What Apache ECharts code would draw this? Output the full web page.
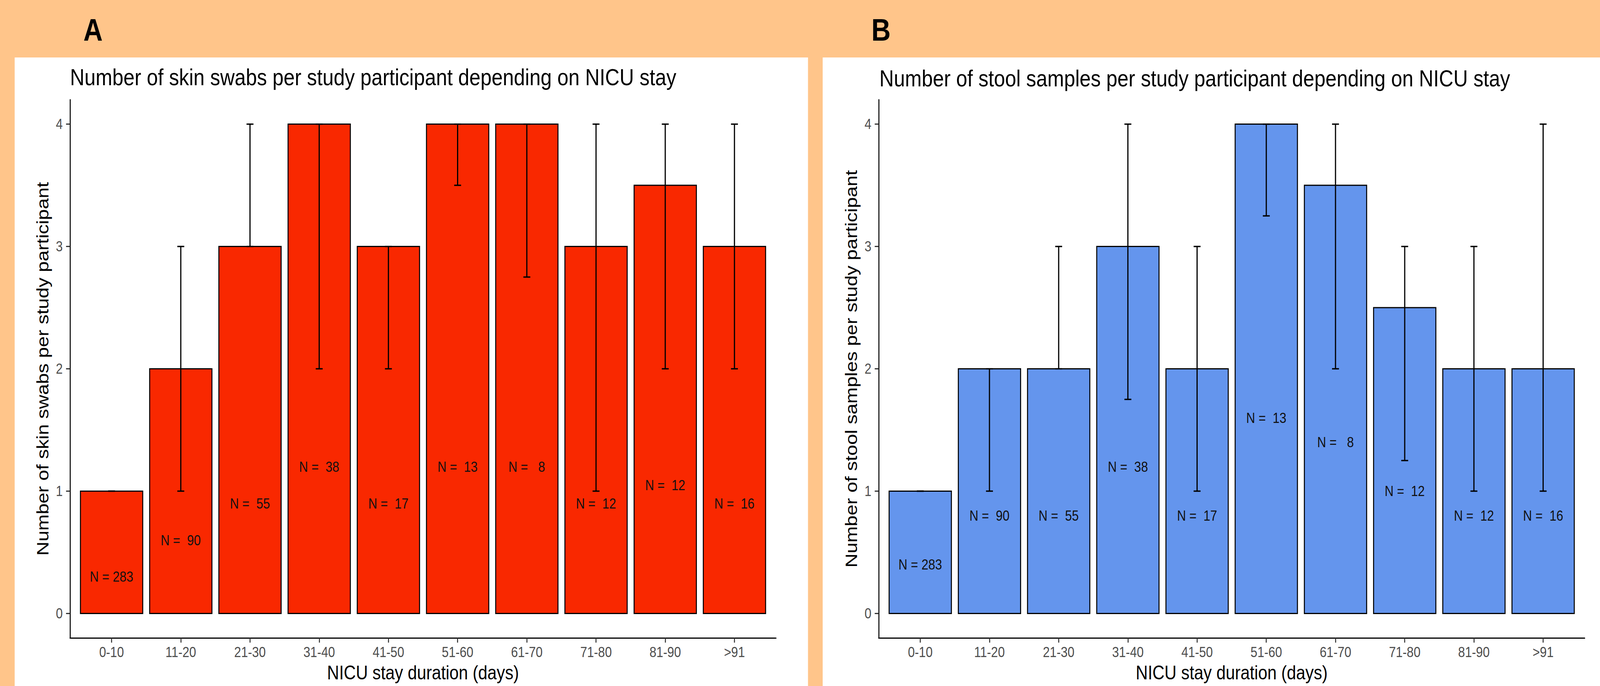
<!DOCTYPE html>
<html>
<head>
<meta charset="utf-8">
<script src="https://cdn.jsdelivr.net/npm/echarts@6/dist/echarts.min.js"></script>
<style>
html,body{margin:0;padding:0;background:#FFC58A;overflow:hidden;}
#chart{width:4796px;height:1755px;transform-origin:0 0;}
</style>
</head>
<body>
<div id="chart"></div>
<script>
// ---- data ----
const categories = ['0-10','11-20','21-30','31-40','41-50','51-60','61-70','71-80','81-90','>91'];
const groupN = [283, 90, 55, 38, 17, 13, 8, 12, 12, 16];
const swabValue = [1, 2, 3, 4, 3, 4, 4, 3, 3.5, 3];
const swabLow   = [1, 1, 3, 2, 2, 3.5, 2.75, 1, 2, 2];
const swabHigh  = [1, 3, 4, 4, 3, 4, 4, 4, 4, 4];
const stoolValue = [1, 2, 2, 3, 2, 4, 3.5, 2.5, 2, 2];
const stoolLow   = [1, 1, 2, 1.75, 1, 3.25, 2, 1.25, 1, 1];
const stoolHigh  = [1, 2, 3, 4, 3, 4, 4, 3, 3, 4];
const yTicks = [0, 1, 2, 3, 4];
const xTicks = categories.map((c, i) => i + 1);

const FONT = '"Liberation Sans", Arial, Helvetica, sans-serif';
const RED = '#F92800';
const BLUE = '#6495ED';

// fit the 4796x1755 design into whatever viewport the browser really has
const el = document.getElementById('chart');
const vw = window.innerWidth, vh = window.innerHeight;
const sx = vw / 4796, sy = vh / 1755;
if (Math.abs(sx - 1) > 0.001 || Math.abs(sy - 1) > 0.001) {
  el.style.transform = 'scale(' + sx + ',' + sy + ')';
}

function barSeries(idx, values, color) {
  return {
    type: 'custom', xAxisIndex: idx, yAxisIndex: idx, z: 2,
    data: values.map((v, i) => [i + 1, v]),
    renderItem: function (params, api) {
      const x = api.value(0), v = api.value(1);
      const p0 = api.coord([x - 0.45, v]);
      const p1 = api.coord([x + 0.45, 0]);
      return {
        type: 'rect',
        shape: { x: p0[0], y: p0[1], width: p1[0] - p0[0], height: p1[1] - p0[1] },
        style: { fill: color, stroke: '#000', lineWidth: 3 }
      };
    }
  };
}

function errSeries(idx, lows, highs) {
  return {
    type: 'custom', xAxisIndex: idx, yAxisIndex: idx, z: 3,
    data: lows.map((l, i) => [i + 1, l, highs[i]]),
    renderItem: function (params, api) {
      const x = api.value(0), lo = api.value(1), hi = api.value(2);
      const top = api.coord([x, hi]), bot = api.coord([x, lo]);
      const tl = api.coord([x - 0.05, hi]), tr = api.coord([x + 0.05, hi]);
      const bl = api.coord([x - 0.05, lo]), br = api.coord([x + 0.05, lo]);
      const st = { stroke: '#000', lineWidth: 3.5 };
      return {
        type: 'group',
        children: [
          { type: 'line', shape: { x1: top[0], y1: top[1], x2: bot[0], y2: bot[1] }, style: st },
          { type: 'line', shape: { x1: tl[0], y1: tl[1], x2: tr[0], y2: tr[1] }, style: st },
          { type: 'line', shape: { x1: bl[0], y1: bl[1], x2: br[0], y2: br[1] }, style: st }
        ]
      };
    }
  };
}

function labelSeries(idx, values, factor) {
  return {
    type: 'custom', xAxisIndex: idx, yAxisIndex: idx, z: 4,
    data: values.map((v, i) => [i + 1, v * factor, groupN[i]]),
    renderItem: function (params, api) {
      const p = api.coord([api.value(0), api.value(1)]);
      return {
        type: 'text',
        x: p[0], y: p[1],
        style: {
          text: 'N = ' + String(api.value(2)).padStart(3, ' '),
          fontSize: 37, fontFamily: FONT, fill: '#111',
          align: 'center', verticalAlign: 'middle'
        }
      };
    }
  };
}

function xAxis(idx) {
  return {
    type: 'value', gridIndex: idx, min: 0.4, max: 10.6,
    name: 'NICU stay duration (days)', nameLocation: 'middle', nameGap: 64,
    nameTextStyle: { fontSize: 50, color: '#000', fontFamily: FONT },
    axisLine: { show: true, onZero: false, lineStyle: { color: '#000', width: 3 } },
    axisTick: { show: true, length: 12, customValues: xTicks, lineStyle: { color: '#333', width: 3 } },
    axisLabel: { customValues: xTicks, formatter: v => categories[Math.round(v) - 1], fontSize: 37, color: '#4D4D4D', margin: 18, fontFamily: FONT },
    splitLine: { show: false }
  };
}

function yAxis(idx, name) {
  return {
    type: 'value', gridIndex: idx, min: -0.2, max: 4.2,
    name: name, nameLocation: 'middle', nameGap: 57, nameRotate: 90,
    nameTextStyle: { fontSize: 50, color: '#000', fontFamily: FONT },
    axisLine: { show: true, onZero: false, lineStyle: { color: '#000', width: 3 } },
    axisTick: { show: true, length: 12, customValues: yTicks, lineStyle: { color: '#333', width: 3 } },
    axisLabel: { customValues: yTicks, fontSize: 37, color: '#4D4D4D', margin: 22, fontFamily: FONT },
    splitLine: { show: false }
  };
}

const chart = echarts.init(el, null, { renderer: 'svg', width: 4796, height: 1755 });
chart.setOption({
  backgroundColor: '#FFC58A',
  animation: false,
  graphic: [
    { type: 'rect', left: 44, top: 147, shape: { width: 2378, height: 1608 }, style: { fill: '#fff' }, z: -10 },
    { type: 'rect', left: 2466, top: 147, shape: { width: 2330, height: 1608 }, style: { fill: '#fff' }, z: -10 }
  ],
  title: [
    { text: 'A', left: 250, top: 37, padding: 0, textStyle: { fontSize: 80, lineHeight: 80, fontWeight: 'bold', color: '#000', fontFamily: FONT } },
    { text: 'B', left: 2612, top: 37, padding: 0, textStyle: { fontSize: 80, lineHeight: 80, fontWeight: 'bold', color: '#000', fontFamily: FONT } },
    { text: 'Number of skin swabs per study participant depending on NICU stay', left: 210, top: 167, padding: 0,
      textStyle: { fontSize: 60, lineHeight: 60, fontWeight: 'normal', color: '#000', fontFamily: FONT } },
    { text: 'Number of stool samples per study participant depending on NICU stay', left: 2636, top: 170, padding: 0,
      textStyle: { fontSize: 60, lineHeight: 60, fontWeight: 'normal', color: '#000', fontFamily: FONT } }
  ],
  grid: [
    { left: 210, top: 255, width: 2116, height: 1377 },
    { left: 2634, top: 255, width: 2116, height: 1377 }
  ],
  xAxis: [xAxis(0), xAxis(1)],
  yAxis: [
    yAxis(0, 'Number of skin swabs per study participant'),
    yAxis(1, 'Number of stool samples per study participant')
  ],
  series: [
    barSeries(0, swabValue, RED),
    errSeries(0, swabLow, swabHigh),
    labelSeries(0, swabValue, 0.3),
    barSeries(1, stoolValue, BLUE),
    errSeries(1, stoolLow, stoolHigh),
    labelSeries(1, stoolValue, 0.4)
  ]
});
</script>
</body>
</html>
